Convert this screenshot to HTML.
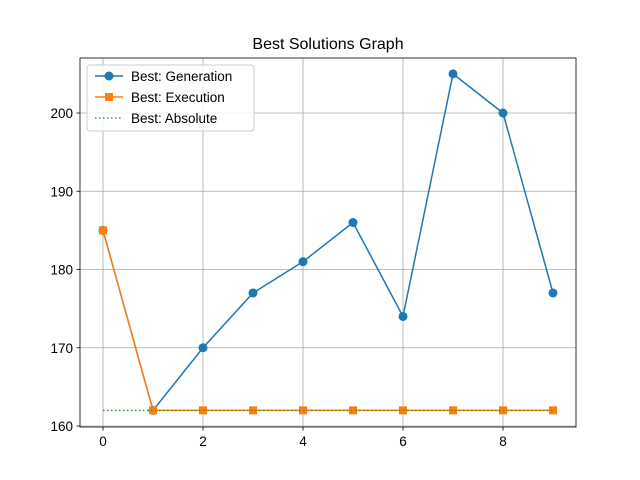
<!DOCTYPE html>
<html><head><meta charset="utf-8"><style>
body{margin:0;background:#fff;}
svg{display:block;font-family:"Liberation Sans","DejaVu Sans",sans-serif;}
</style></head><body>
<svg id="chart" width="640" height="480" viewBox="0 0 640 480" xmlns="http://www.w3.org/2000/svg">
<rect width="640" height="480" fill="#fff"/>
<text x="328" y="49" font-size="16" text-anchor="middle" fill="#000">Best Solutions Graph</text>
<g id="grid"></g>
<g id="ticks"></g>
<g id="series"></g>
<rect x="80" y="58" width="496" height="369" fill="none" stroke="#000" stroke-width="0.8"/>
<g>
<rect x="87" y="65" width="167" height="66" rx="3" fill="#fff" fill-opacity="0.8" stroke="#ccc"/>
<g>
<line x1="95" y1="76" x2="123" y2="76" stroke="#1f77b4" stroke-width="1.5"/><circle cx="109" cy="76" r="4.5" fill="#1f77b4"/>
<text x="131" y="81" font-size="13.5">Best: Generation</text></g>
<g>
<line x1="95" y1="97" x2="123" y2="97" stroke="#ff7f0e" stroke-width="1.5"/><rect x="105" y="93" width="8" height="8" fill="#ff7f0e"/>
<text x="131" y="102" font-size="13.5">Best: Execution</text></g>
<g>
<line x1="95" y1="118" x2="123" y2="118" stroke="#2ca02c" stroke-width="1.5" stroke-dasharray="1.5,2.5"/>
<text x="131" y="123" font-size="13.5">Best: Absolute</text></g>
</g>
</svg>
<script>
const xs=[0,1,2,3,4,5,6,7,8,9];
const generation=[185,162,170,177,181,186,174,205,200,177];
const execution=[185,162,162,162,162,162,162,162,162,162];
const absolute=[162,162,162,162,162,162,162,162,162,162];
const xTicks=[0,2,4,6,8];
const yTicks=[160,170,180,190,200];
const NS="http://www.w3.org/2000/svg";
const X=v=>103+v*50;
const Y=v=>426-(v-160)*7.825;
function mk(tag,attrs,parent){const e=document.createElementNS(NS,tag);for(const k in attrs)e.setAttribute(k,attrs[k]);document.getElementById(parent).appendChild(e);return e;}
xTicks.forEach(t=>{
 const g=mk('line',{x1:X(t),x2:X(t),y1:58,y2:427,stroke:'#a8a8a8','stroke-width':0.8},'grid');
 
 
 mk('line',{x1:X(t),x2:X(t),y1:427,y2:430.5,stroke:'#000','stroke-width':0.8},'ticks');
 const l=mk('text',{x:X(t),y:446,'font-size':13.5,'text-anchor':'middle'},'ticks');
 l.textContent=t;
 
 
});
yTicks.forEach(t=>{
 const g=mk('line',{x1:80,x2:576,y1:Y(t),y2:Y(t),stroke:'#a8a8a8','stroke-width':0.8},'grid');
 
 
 mk('line',{x1:76.5,x2:80,y1:Y(t),y2:Y(t),stroke:'#000','stroke-width':0.8},'ticks');
 const l=mk('text',{x:73,y:Y(t)+5,'font-size':13.5,'text-anchor':'end'},'ticks');
 l.textContent=t;
 
 
});
function pts(arr){return arr.map((v,i)=>X(xs[i])+','+Y(v)).join(' ');}
const lg=mk('polyline',{points:pts(generation),fill:'none',stroke:'#1f77b4','stroke-width':1.5},'series');


generation.forEach((v,i)=>{const c=mk('circle',{cx:X(xs[i]),cy:Y(v),r:4.5,fill:'#1f77b4'},'series');
 
 });
const le=mk('polyline',{points:pts(execution),fill:'none',stroke:'#ff7f0e','stroke-width':1.5},'series');


execution.forEach((v,i)=>{const r=mk('rect',{x:X(xs[i])-4,y:Y(v)-4,width:8,height:8,fill:'#ff7f0e'},'series');
 
 });
const la=mk('polyline',{points:pts(absolute),fill:'none',stroke:'#2ca02c','stroke-width':1.5,'stroke-dasharray':'1.5,2.5'},'series');


</script>
</body></html>
